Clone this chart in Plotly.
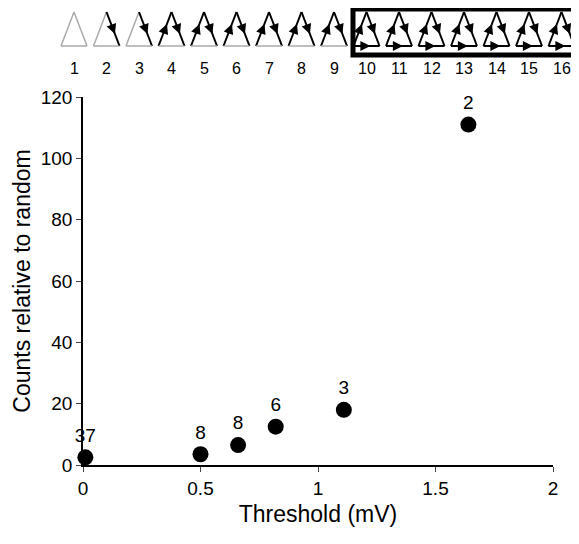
import plotly.graph_objects as go

threshold = [0.01, 0.5, 0.66, 0.82, 1.11, 1.64]
counts = [2.5, 3.5, 6.5, 12.5, 18, 111]
n_labels = ["37", "8", "8", "6", "3", "2"]
motif_ids = [str(i) for i in range(1, 17)]
# edges drawn black per motif: L=left, R=right, B=base
motif_edges = [""] + ["R"] * 2 + ["LR"] * 6 + ["LRB"] * 7

W, H = 579, 544
OFF = 8  # page body margin
L, R, T, B = 83 - OFF, 26 + OFF, 97 - OFF, 79 + OFF
pw, ph = W - L - R, H - T - B

def px(x):
    return (x - OFF - L) / pw

def py(y):
    return (H - B - (y - OFF)) / ph

fig = go.Figure(go.Scatter(
    x=threshold, y=counts, mode="markers+text", text=n_labels,
    textposition="top center", textfont=dict(size=19, color="black"),
    marker=dict(size=16, color="black"), cliponaxis=False))

shapes = []
annotations = []
for i, (mid, edges) in enumerate(zip(motif_ids, motif_edges)):
    cx = 74 + i * 32.5
    top, base, hw = 12, 46, 13
    pts = {"L": ((cx - hw, base), (cx, top)), "R": ((cx, top), (cx + hw, base)),
           "B": ((cx - hw, base), (cx + hw, base))}
    for k, ((x0, y0), (x1, y1)) in pts.items():
        on = k in edges
        shapes.append(dict(type="line", xref="paper", yref="paper",
                           x0=px(x0), y0=py(y0), x1=px(x1), y1=py(y1),
                           line=dict(color="black" if on else "#aaaaaa", width=2 if on else 1.5)))
        if on:
            annotations.append(dict(x=px(x0 + 0.65 * (x1 - x0)), y=py(y0 + 0.65 * (y1 - y0)),
                                    ax=-0.3 * (x1 - x0), ay=-0.3 * (y1 - y0),
                                    xref="paper", yref="paper", axref="pixel", ayref="pixel",
                                    text="", showarrow=True, arrowhead=2, arrowsize=1,
                                    arrowwidth=2, arrowcolor="black"))
    annotations.append(dict(text=mid, x=px(cx), y=py(68), xref="paper", yref="paper",
                            xanchor="center", yanchor="middle",
                            showarrow=False, font=dict(size=16, color="black")))
shapes.append(dict(type="rect", xref="paper", yref="paper", x0=px(353), y0=py(9),
                   x1=px(577), y1=py(55), line=dict(color="black", width=5)))

fig.update_layout(
    width=W, height=H, margin=dict(l=L, r=R, t=T, b=B),
    plot_bgcolor="white", paper_bgcolor="white", showlegend=False,
    font=dict(family="Liberation Sans, Arial", size=19, color="black"),
    shapes=shapes, annotations=annotations,
    xaxis=dict(range=[0, 2], tickvals=[0, 0.5, 1, 1.5, 2], ticktext=["0", "0.5", "1", "1.5", "2"],
               showline=True, linecolor="black", linewidth=1.5, ticks="outside",
               showgrid=False, zeroline=False, title=dict(text="Threshold (mV)", standoff=8)),
    yaxis=dict(range=[0, 120], dtick=20, showline=True, linecolor="black", linewidth=1.5,
               ticks="outside", showgrid=False, zeroline=False,
               title=dict(text="Counts relative to random", standoff=4)),
)
fig.write_html("out.html")
